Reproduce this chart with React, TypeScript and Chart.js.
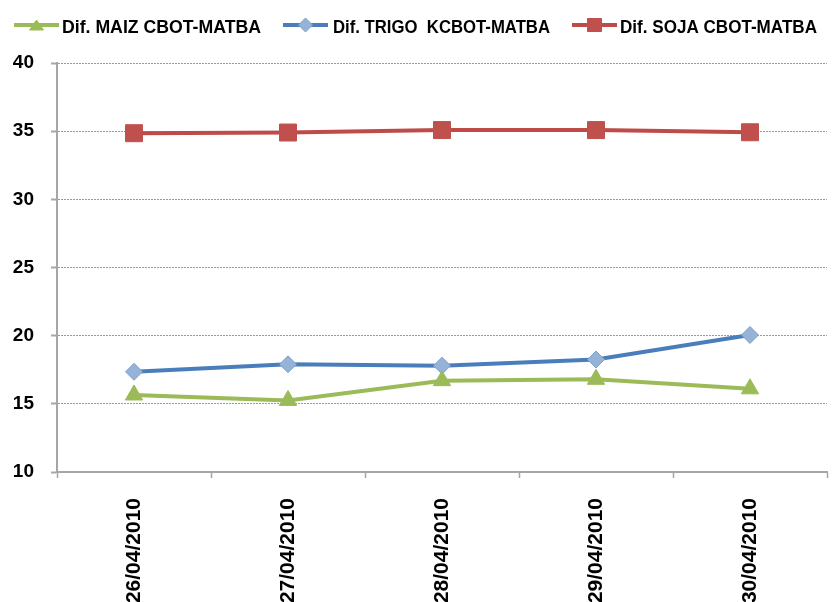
import React, { useEffect, useRef } from "react";
import { Chart, registerables } from "chart.js";

Chart.register(...registerables);

const categories = ["26/04/2010", "27/04/2010", "28/04/2010", "29/04/2010", "30/04/2010"];
const maizValues = [15.65, 15.25, 16.7, 16.8, 16.1];
const trigoValues = [17.35, 17.9, 17.8, 18.25, 20.05];
const sojaValues = [34.85, 34.9, 35.08, 35.08, 34.92];
const seriesNames = ["Dif. MAIZ CBOT-MATBA", "Dif. TRIGO  KCBOT-MATBA", "Dif. SOJA CBOT-MATBA"];
const yTicks = [10, 15, 20, 25, 30, 35, 40];

const GREEN = "#9BBB59";
const BLUE = "#4A7EBB";
const BLUE_FILL = "#95B3D7";
const RED = "#BE4B48";

const legendPlugin = {
  id: "customLegend",
  afterDraw(chart: any) {
    const ctx = chart.ctx;
    const items = [
      { lineX: 14, textX: 62, textW: 199, color: GREEN, marker: "triangle", fill: GREEN, border: GREEN },
      { lineX: 283, textX: 333, textW: 217, color: BLUE, marker: "diamond", fill: BLUE_FILL, border: "#7EA1CF" },
      { lineX: 572, textX: 620, textW: 197, color: RED, marker: "square", fill: "#C0504D", border: "#C0504D" },
    ];
    const ly = 25;
    ctx.save();
    items.forEach((it, i) => {
      ctx.strokeStyle = it.color;
      ctx.lineWidth = 4;
      ctx.beginPath();
      ctx.moveTo(it.lineX, ly);
      ctx.lineTo(it.lineX + 45, ly);
      ctx.stroke();
      const cx = it.lineX + 22.5;
      ctx.fillStyle = it.fill;
      ctx.strokeStyle = it.border;
      ctx.lineWidth = 1;
      ctx.beginPath();
      if (it.marker === "triangle") {
        ctx.moveTo(cx, ly - 5);
        ctx.lineTo(cx + 7, ly + 5);
        ctx.lineTo(cx - 7, ly + 5);
        ctx.closePath();
      } else if (it.marker === "diamond") {
        ctx.moveTo(cx, ly - 7);
        ctx.lineTo(cx + 7, ly);
        ctx.lineTo(cx, ly + 7);
        ctx.lineTo(cx - 7, ly);
        ctx.closePath();
      } else {
        ctx.rect(cx - 7, ly - 6.5, 14, 13);
      }
      ctx.fill();
      ctx.stroke();
      ctx.fillStyle = "#000";
      ctx.font = 'bold 18px "Liberation Sans"';
      ctx.textBaseline = "alphabetic";
      ctx.textAlign = "left";
      ctx.fillText(seriesNames[i], it.textX, 33, it.textW);
    });
    ctx.restore();
  },
};

export default function App() {
  const canvasRef = useRef<HTMLCanvasElement | null>(null);

  useEffect(() => {
    if (!canvasRef.current) return;
    const chart = new Chart(canvasRef.current, {
      type: "line",
      data: {
        labels: categories,
        datasets: [
          {
            label: seriesNames[0],
            data: maizValues,
            borderColor: GREEN,
            backgroundColor: GREEN,
            borderWidth: 4,
            pointStyle: "triangle",
            pointRadius: 10,
            pointBackgroundColor: GREEN,
            pointBorderColor: GREEN,
            pointBorderWidth: 1,
            tension: 0,
          },
          {
            label: seriesNames[1],
            data: trigoValues,
            borderColor: BLUE,
            backgroundColor: BLUE_FILL,
            borderWidth: 4,
            pointStyle: "rectRot",
            pointRadius: 8.5,
            pointBackgroundColor: BLUE_FILL,
            pointBorderColor: "#7EA1CF",
            pointBorderWidth: 1,
            tension: 0,
          },
          {
            label: seriesNames[2],
            data: sojaValues,
            borderColor: RED,
            backgroundColor: "#C0504D",
            borderWidth: 4,
            pointStyle: "rect",
            pointRadius: 12,
            pointBackgroundColor: "#C0504D",
            pointBorderColor: "#C0504D",
            pointBorderWidth: 1,
            tension: 0,
          },
        ],
      },
      options: {
        responsive: false,
        animation: false,
        layout: { autoPadding: false, padding: { top: 63, right: 5, left: 0, bottom: 0 } },
        plugins: {
          legend: { display: false },
          tooltip: { enabled: false },
        },
        scales: {
          x: {
            offset: true,
            grid: {
              display: true,
              offset: true,
              drawOnChartArea: false,
              drawTicks: true,
              tickLength: 6,
              tickColor: "#A6A6A6",
              tickWidth: 1.5,
              color: "#A6A6A6",
            },
            border: { display: true, color: "#A6A6A6", width: 2 },
            ticks: {
              autoSkip: false,
              maxRotation: 90,
              minRotation: 90,
              padding: 20,
              color: "#000",
              font: { family: '"Liberation Sans"', size: 21, weight: "bold" },
            },
            afterFit(scale: any) {
              scale.height = 130;
              scale.paddingLeft = 0;
              scale.paddingRight = 0;
            },
          },
          y: {
            min: 10,
            max: 40,
            afterBuildTicks(scale: any) {
              scale.ticks = yTicks.map((v) => ({ value: v }));
            },
            grid: {
              color: "#9A9A9A",
              lineWidth: 1,
              drawTicks: true,
              tickLength: 6,
              tickColor: "#A6A6A6",
              tickWidth: 2,
              tickBorderDash: [],
            },
            border: { display: true, color: "#A6A6A6", width: 2, dash: [2, 1] },
            ticks: {
              padding: 17,
              color: "#000",
              font: { family: '"Liberation Sans"', size: 19, weight: "bold" },
            },
            afterFit(scale: any) {
              scale.width = 57;
            },
          },
        },
      },
      plugins: [legendPlugin],
    });
    return () => chart.destroy();
  }, []);

  return (
    <div style={{ position: "absolute", left: 0, top: 0, width: 832, height: 602, background: "#fff" }}>
      <canvas ref={canvasRef} width={832} height={602} />
    </div>
  );
}
